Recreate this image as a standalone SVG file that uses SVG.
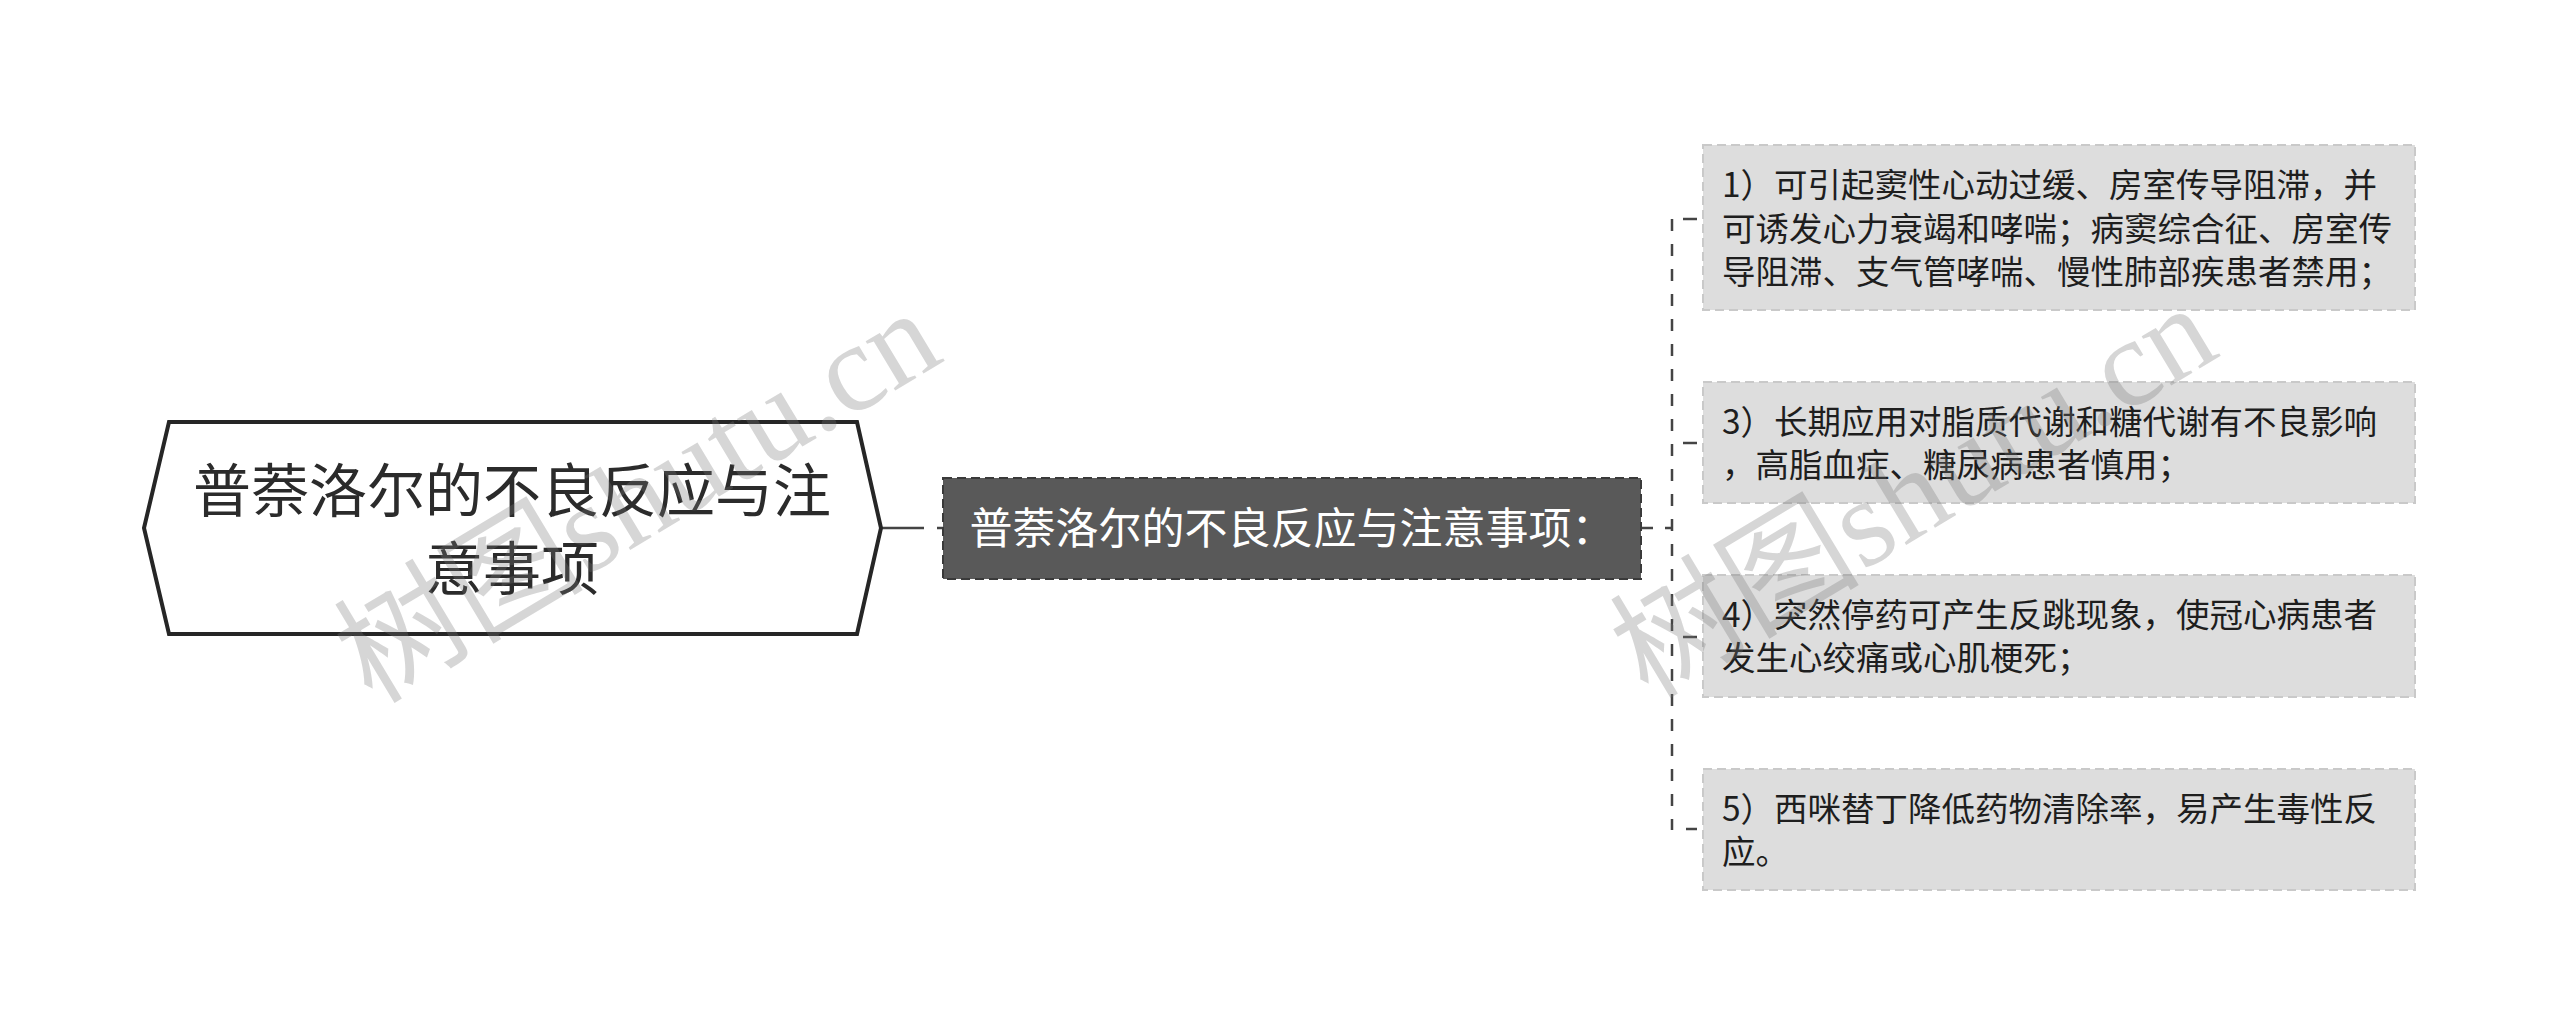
<svg xmlns="http://www.w3.org/2000/svg" width="2560" height="1035" viewBox="0 0 2560 1035">
<style>
.root-shape{fill:#ffffff;stroke:#262626;stroke-width:4;stroke-linejoin:miter}
.root-text{font-family:"Noto Sans CJK SC","Noto Sans",sans-serif;font-size:58px;fill:#2b2b2b;text-anchor:middle}
.mid-box{fill:#595959;stroke:#3a3a3a;stroke-width:2;stroke-dasharray:9 5}
.mid-text{font-family:"Noto Sans CJK SC","Noto Sans",sans-serif;font-size:43px;fill:#ffffff;text-anchor:middle}
.leaf-box{fill:#dddddd;stroke:#c9c9c9;stroke-width:2;stroke-dasharray:9 5}
.leaf-text{font-family:"Noto Sans CJK SC","Noto Sans",sans-serif;font-size:33.5px;fill:#1e1e1e}
.conn{fill:none;stroke:#444444;stroke-width:2.5}
.wm{font-family:"Liberation Serif","Noto Sans CJK SC",serif;font-size:125px;fill:#777777;fill-opacity:0.3}
</style>

<g id="connectors">
  <path class="conn" d="M881,528 H943" stroke-width="4" stroke-dasharray="43 13"/>
  <path class="conn" d="M1641,528 H1672" stroke-dasharray="12 12"/>
  <path class="conn" d="M1672,219 V830" stroke-dasharray="12 13"/>
  <path class="conn" d="M1683,219 H1697"/>
  <path class="conn" d="M1683,443 H1697"/>
  <path class="conn" d="M1683,637 H1697"/>
  <path class="conn" d="M1686,829 H1697"/>
</g>

<g id="node-root">
  <polygon class="root-shape" points="144,528 169,422 857,422 881,528 857,634 169,634"/>
  <text class="root-text" x="512" y="512">普萘洛尔的不良反应与注</text>
  <text class="root-text" x="512" y="590">意事项</text>
</g>

<g id="node-main">
  <rect class="mid-box" x="943" y="478" width="698" height="101"/>
  <text class="mid-text" x="1292" y="544">普萘洛尔的不良反应与注意事项：</text>
</g>

<g id="node-leaf1">
  <rect class="leaf-box" x="1703" y="145" width="712" height="165"/>
  <text class="leaf-text" x="1722" y="197">1）可引起窦性心动过缓、房室传导阻滞，并</text>
  <text class="leaf-text" x="1722" y="241">可诱发心力衰竭和哮喘；病窦综合征、房室传</text>
  <text class="leaf-text" x="1722" y="284">导阻滞、支气管哮喘、慢性肺部疾患者禁用；</text>
</g>

<g id="node-leaf3">
  <rect class="leaf-box" x="1703" y="382" width="712" height="121"/>
  <text class="leaf-text" x="1722" y="434">3）长期应用对脂质代谢和糖代谢有不良影响</text>
  <text class="leaf-text" x="1722" y="477">，高脂血症、糖尿病患者慎用；</text>
</g>

<g id="node-leaf4">
  <rect class="leaf-box" x="1703" y="575" width="712" height="122"/>
  <text class="leaf-text" x="1722" y="627">4）突然停药可产生反跳现象，使冠心病患者</text>
  <text class="leaf-text" x="1722" y="670">发生心绞痛或心肌梗死；</text>
</g>

<g id="node-leaf5">
  <rect class="leaf-box" x="1703" y="769" width="712" height="121"/>
  <text class="leaf-text" x="1722" y="821">5）西咪替丁降低药物清除率，易产生毒性反</text>
  <text class="leaf-text" x="1722" y="864">应。</text>
</g>

<g id="watermarks">
  <text class="wm" transform="translate(372,705) rotate(-31)">树图shutu.cn</text>
  <text class="wm" transform="translate(1648,700) rotate(-31)">树图shutu.cn</text>
</g>
</svg>
